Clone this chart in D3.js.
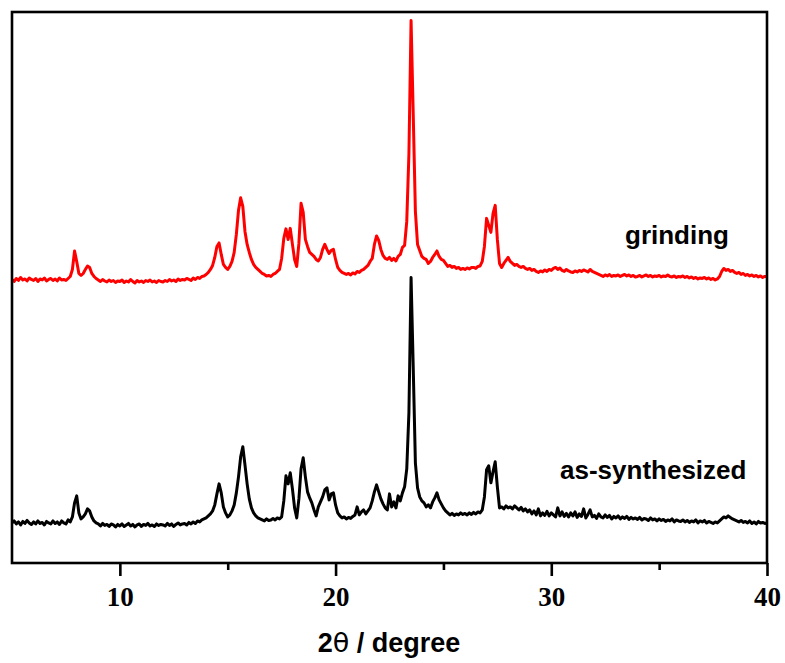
<!DOCTYPE html>
<html>
<head>
<meta charset="utf-8">
<script src="https://cdn.jsdelivr.net/npm/d3@7"></script>
<style>
  html, body { margin: 0; padding: 0; background: #fff; }
  svg { display: block; }
</style>
</head>
<body>
<svg id="chart" width="785" height="663"></svg>
<script>
// Powder XRD patterns, 2θ from 5° to 40° sampled every 0.1°
const thetaStart = 5;
const thetaStep = 0.1;

const asSynthesized = [
  80, 84, 78, 82, 76, 83, 79, 85, 80, 77,
  82, 78, 84, 79, 81, 76, 83, 80, 78, 84,
  79, 82, 77, 84, 80, 78, 86, 82, 92, 120,
  134, 100, 88, 92, 98, 108, 104, 92, 84, 80,
  78, 74, 79, 75, 77, 73, 78, 76, 72, 77,
  74, 78, 73, 76, 79, 74, 77, 72, 76, 78,
  73, 77, 75, 79, 74, 76, 73, 78, 75, 77,
  76, 74, 79, 75, 78, 73, 77, 80, 76, 78,
  79, 76, 81, 78, 82, 79, 84, 82, 86, 88,
  90, 94, 98, 104, 116, 138, 158, 140, 112, 100,
  92, 96, 104, 116, 140, 172, 212, 232, 196, 158,
  128, 110, 100, 94, 90, 88, 86, 84, 88, 85,
  86, 89, 86, 90, 88, 92, 124, 174, 158, 180,
  148, 110, 90, 128, 188, 210, 172, 142, 130, 120,
  106, 94, 112, 122, 132, 146, 150, 126, 138, 140,
  116, 100, 94, 90, 92, 88, 91, 89, 93, 96,
  112, 96, 102, 106, 98, 104, 110, 124, 142, 156,
  142, 128, 118, 110, 106, 138, 112, 122, 110, 134,
  124, 140, 152, 188, 300, 570, 390, 200, 150, 132,
  124, 120, 112, 116, 110, 122, 130, 140, 126, 118,
  110, 104, 100, 96, 99, 95, 98, 96, 100, 97,
  99, 96, 100, 97, 101, 98, 102, 100, 106, 132,
  186, 194, 160, 182, 202, 152, 110, 112, 108, 114,
  110, 112, 108, 114, 110, 106, 111, 104, 108, 102,
  106, 98, 104, 96, 108, 94, 100, 95, 103, 94,
  100, 96, 92, 110, 94, 102, 93, 99, 92, 100,
  94, 102, 91, 98, 93, 108, 90, 97, 106, 92,
  95, 89, 98, 92, 90, 96, 91, 95, 88, 93,
  90, 94, 88, 92, 89, 93, 87, 91, 88, 90,
  87, 91, 86, 89, 88, 85, 90, 86, 88, 84,
  88, 85, 87, 83, 86, 84, 88, 82, 86, 84,
  83, 86, 82, 85, 81, 84, 82, 86, 80, 84,
  82, 85, 80, 83, 81, 79, 82, 80, 84, 88,
  92, 90, 94, 91, 88, 86, 84, 82, 85, 81,
  83, 80, 84, 79, 82, 78, 83, 80, 81, 79,
  80
];

const grinding = [
  80, 76, 82, 78, 84, 79, 81, 77, 83, 80,
  78, 82, 76, 81, 79, 83, 77, 80, 82, 78,
  81, 77, 83, 79, 80, 78, 82, 86, 100, 137,
  116, 92, 88, 92, 100, 107, 104, 92, 86, 82,
  79, 76, 80, 77, 75, 79, 76, 78, 74, 77,
  76, 79, 74, 77, 75, 80, 76, 73, 78, 75,
  77, 74, 78, 76, 79, 75, 77, 74, 78, 76,
  75, 78, 76, 80, 77, 79, 76, 81, 78, 80,
  79, 82, 80, 78, 83, 80, 84, 82, 86, 87,
  90, 94, 100, 108, 124, 146, 153, 130, 110, 104,
  100, 106, 116, 134, 170, 218, 243, 226, 176, 150,
  134, 120, 110, 104, 100, 96, 92, 90, 87, 88,
  86, 90, 92, 96, 100, 122, 162, 181, 160, 182,
  150, 120, 106, 152, 232, 214, 160, 146, 134, 130,
  126, 120, 117, 124, 140, 150, 140, 132, 138, 140,
  120, 104, 98, 94, 92, 90, 92, 89, 93, 91,
  96, 94, 98, 100, 104, 108, 116, 122, 150, 167,
  158, 140, 128, 122, 120, 124, 118, 122, 117, 126,
  130, 144, 148, 196, 330, 597, 410, 216, 150, 138,
  126, 122, 120, 112, 116, 124, 130, 137, 126, 120,
  118, 112, 106, 108, 104, 106, 102, 104, 100, 102,
  100, 103, 101, 104, 104, 102, 106, 107, 116, 146,
  202, 188, 174, 212, 228, 160, 112, 104, 112, 118,
  124, 116, 112, 108, 110, 106, 104, 106, 102, 100,
  102, 98, 100, 96, 94, 97, 95, 99, 96, 100,
  98, 102, 104, 100, 103, 98, 96, 100, 97, 95,
  94, 97, 95, 98, 96, 99, 97, 95, 100, 96,
  94, 92, 90, 88, 86, 89, 87, 90, 86, 88,
  87, 89, 86, 88, 90, 87, 89, 86, 88, 85,
  86, 88, 85, 87, 89, 86, 88, 85, 87, 86,
  88, 85, 87, 86, 89, 86, 85, 87, 84, 86,
  85, 87, 84, 86, 83, 85, 82, 84, 81, 83,
  82, 84, 81, 83, 80, 82, 79, 81, 86, 96,
  102, 98, 100, 96, 98, 94, 92, 94, 90, 92,
  88, 90, 87, 89, 86, 88, 85, 87, 84, 86,
  86
];

const seriesNames = ["as-synthesized", "grinding"];
const seriesOffsets = [0, 486];          // vertical stacking of the patterns
const seriesColors = ["#000000", "#ff0000"];
const majorTicks = [10, 20, 30, 40];
const minorTicks = [15, 25, 35];

const svg = d3.select("#chart");
const frame = { left: 12, right: 767, top: 12, bottom: 563 };

const x = d3.scaleLinear().domain([5, 40]).range([frame.left, frame.right]);
const y = d3.scaleLinear().domain([0, 1100]).range([frame.bottom, frame.top]);

const toPoints = (vals, off) => vals.map((v, i) => [thetaStart + i * thetaStep, v + off]);

const line = d3.line()
  .x(d => x(d[0]))
  .y(d => y(d[1]));

svg.append("clipPath").attr("id", "plot-clip")
  .append("rect")
  .attr("x", frame.left).attr("y", frame.top)
  .attr("width", frame.right - frame.left)
  .attr("height", frame.bottom - frame.top);

const patterns = [asSynthesized, grinding];
svg.append("g").attr("clip-path", "url(#plot-clip)")
  .selectAll("path")
  .data(patterns)
  .join("path")
  .attr("d", (d, i) => line(toPoints(d, seriesOffsets[i])))
  .attr("fill", "none")
  .attr("stroke", (d, i) => seriesColors[i])
  .attr("stroke-width", 3)
  .attr("stroke-linejoin", "round");

// Frame
svg.append("rect")
  .attr("x", frame.left).attr("y", frame.top)
  .attr("width", frame.right - frame.left)
  .attr("height", frame.bottom - frame.top)
  .attr("fill", "none")
  .attr("stroke", "#000")
  .attr("stroke-width", 2.6);

// Bottom axis: major ticks with labels, minor ticks between
const axisG = svg.append("g").attr("transform", `translate(0,${frame.bottom})`);
const majorAxis = d3.axisBottom(x).tickValues(majorTicks).tickSize(13).tickPadding(11)
  .tickFormat(d3.format("d"));
axisG.call(majorAxis);
axisG.select(".domain").remove();
axisG.selectAll(".tick line").attr("stroke", "#000").attr("stroke-width", 2.6);
axisG.selectAll(".tick text")
  .attr("font-family", "'Liberation Serif', 'Times New Roman', serif")
  .attr("font-weight", "bold")
  .attr("font-size", 27)
  .attr("fill", "#000");

const minorG = svg.append("g").attr("transform", `translate(0,${frame.bottom})`);
minorG.call(d3.axisBottom(x).tickValues(minorTicks).tickSize(7).tickFormat(""));
minorG.select(".domain").remove();
minorG.selectAll(".tick line").attr("stroke", "#000").attr("stroke-width", 2.6);

// Axis title
const title = svg.append("text")
  .attr("x", 389).attr("y", 652)
  .attr("text-anchor", "middle")
  .attr("font-family", "'Liberation Sans', Arial, sans-serif")
  .attr("font-weight", "bold")
  .attr("font-size", 27)
  .attr("fill", "#000");
title.append("tspan").text("2");
title.append("tspan").attr("font-weight", "normal").attr("font-family", "'DejaVu Sans', sans-serif").text("θ");
title.append("tspan").text(" / degree");

// Series labels
const labelPos = [[560, 479], [625, 244]];
svg.selectAll("text.series-label")
  .data(seriesNames)
  .join("text")
  .attr("class", "series-label")
  .attr("x", (d, i) => labelPos[i][0])
  .attr("y", (d, i) => labelPos[i][1])
  .attr("font-family", "'Liberation Sans', Arial, sans-serif")
  .attr("font-weight", "bold")
  .attr("font-size", 26)
  .attr("fill", "#000")
  .text(d => d);
</script>
</body>
</html>
